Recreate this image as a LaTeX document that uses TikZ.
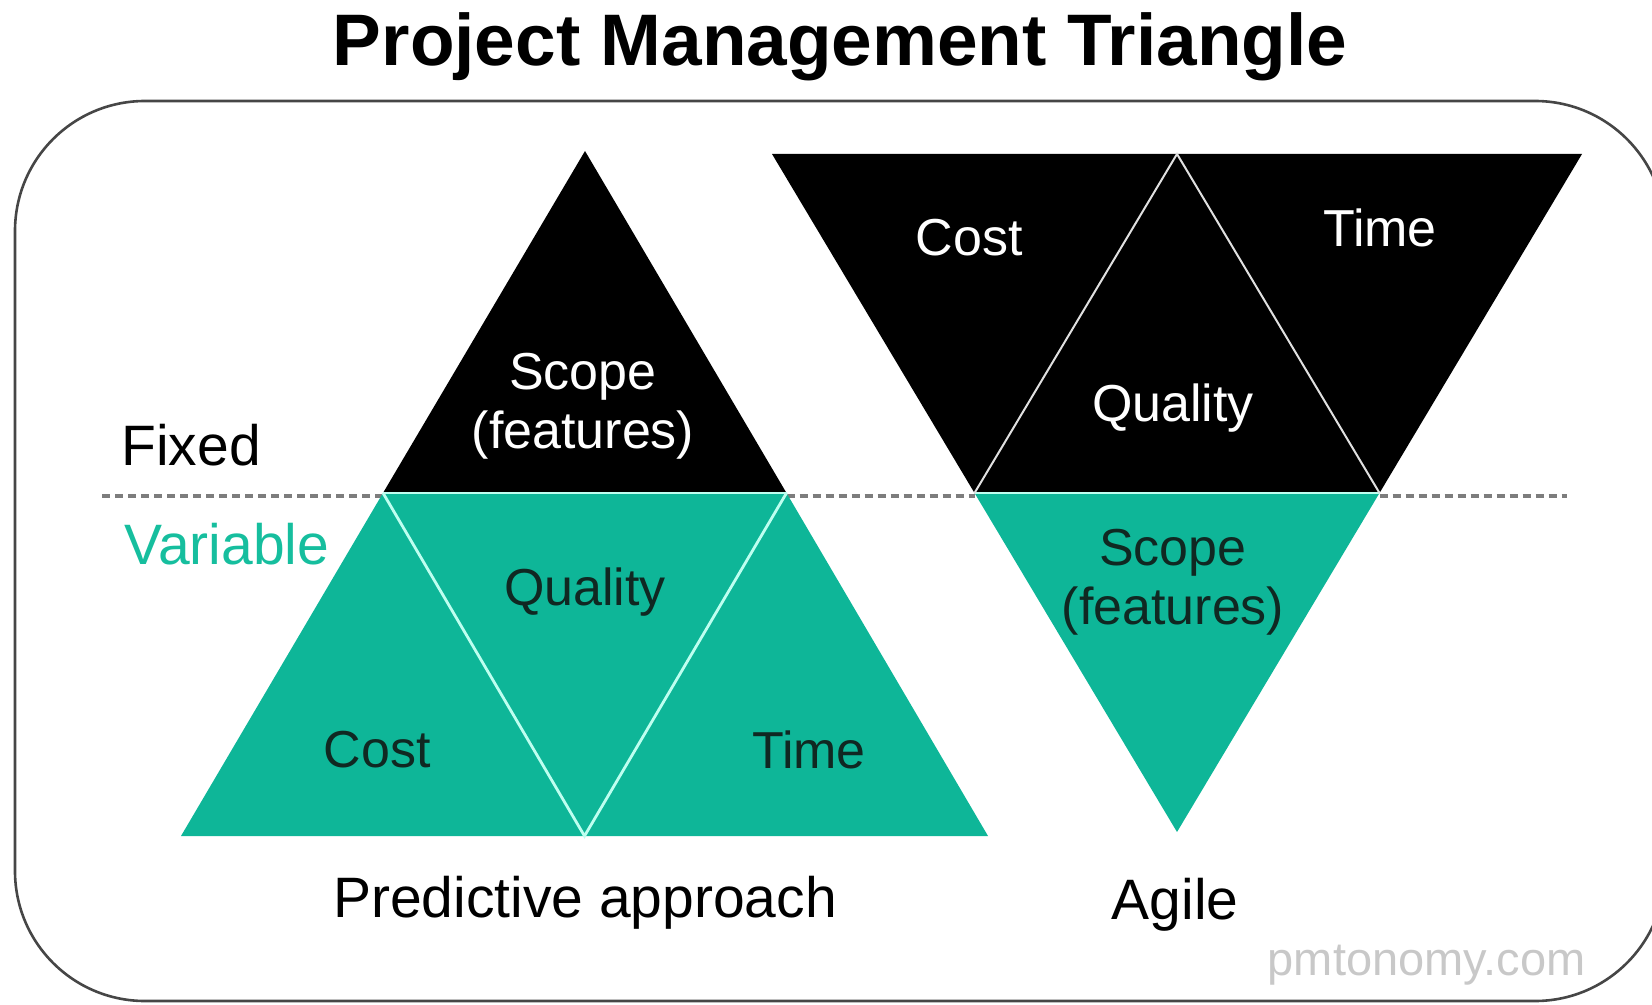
\documentclass[tikz,border=0pt]{standalone}
\usepackage{fontspec}
\setmainfont{Liberation Sans}
\definecolor{tealfill}{RGB}{14,182,152}
\definecolor{tealtxt}{RGB}{22,190,158}
\definecolor{darktxt}{RGB}{16,40,34}
\definecolor{sepcol}{RGB}{190,255,240}
\definecolor{boxcol}{RGB}{70,70,70}
\definecolor{dashcol}{RGB}{125,125,125}
\definecolor{wmcol}{RGB}{200,200,200}
\begin{document}
\begin{tikzpicture}[x=0.5pt,y=-0.5pt,
  blackpart/.style={fill=black},
  tealpart/.style={fill=tealfill},
  sepline/.style={draw=sepcol,line width=1.4pt},
  whiteline/.style={draw=white!88!black,line width=1pt},
  dashline/.style={draw=dashcol,line width=1.8pt,dash pattern=on 4pt off 2.5pt},
  framebox/.style={draw=boxcol,line width=1.3pt,rounded corners=65pt},
  trilabel/.style={font=\fontsize{26}{29.5}\selectfont,align=center,inner sep=0pt},
  outlabel/.style={font=\fontsize{28.5}{34}\selectfont,inner sep=0pt},
  titlelabel/.style={font=\fontsize{36.5}{42}\selectfont\bfseries,inner sep=0pt}
]
\useasboundingbox (0,0) rectangle (1652,1005);

% title
\node[titlelabel,anchor=base] (title) at (840,66) {Project Management Triangle};

% frame
\draw[framebox] (15,101) rectangle (1665,1001);

% predictive triangle coordinates
\coordinate (pA)  at (585,151);
\coordinate (pBL) at (181,836);
\coordinate (pBR) at (988,836);
\coordinate (pML) at (383,493);
\coordinate (pMR) at (786.5,493);
\coordinate (pMB) at (584.5,836);

% agile triangle coordinates
\coordinate (aTL) at (772,154);
\coordinate (aTR) at (1582,154);
\coordinate (aB)  at (1177,832);
\coordinate (aML) at (974.5,493);
\coordinate (aMR) at (1379.5,493);
\coordinate (aTM) at (1177,154);

% dashed separator
\coordinate (d0) at (102,496);
\coordinate (d1) at (383,496);
\coordinate (d2) at (786.5,496);
\coordinate (d3) at (974.5,496);
\coordinate (d4) at (1379.5,496);
\coordinate (d5) at (1567,496);
\draw[dashline] (d0) -- (d1);
\draw[dashline] (d2) -- (d3);
\draw[dashline] (d4) -- (d5);

% predictive shapes
\fill[blackpart] (pA) -- (pMR) -- (pML) -- cycle;
\fill[tealpart] (pML) -- (pMR) -- (pBR) -- (pBL) -- cycle;
\draw[sepline] (pML) -- (pMR);
\draw[sepline] (pML) -- (pMB) -- (pMR);

% agile shapes
\fill[blackpart] (aTL) -- (aTR) -- (aMR) -- (aML) -- cycle;
\fill[tealpart] (aML) -- (aMR) -- (aB) -- cycle;
\draw[sepline] (aML) -- (aMR);
\draw[whiteline] (aML) -- (aTM) -- (aMR);

% labels predictive
\node[trilabel,text=white] (pscope) at (583,406) {Scope\\(features)};
\node[trilabel,text=darktxt] (pquality) at (585,592) {Quality};
\node[trilabel,text=darktxt] (pcost) at (377,750) {Cost};
\node[trilabel,text=darktxt] (ptime) at (809,750) {Time};

% labels agile
\node[trilabel,text=white] (acost) at (969,238) {Cost};
\node[trilabel,text=white] (atime) at (1380,228) {Time};
\node[trilabel,text=white] (aquality) at (1173,408) {Quality};
\node[trilabel,text=darktxt] (ascope) at (1173,582) {Scope\\(features)};

% outer labels
\node[outlabel,anchor=base west] (fixed) at (121,465) {Fixed};
\node[outlabel,anchor=base west,text=tealtxt] (variable) at (124,564) {Variable};
\node[outlabel,anchor=base] (pred) at (585,917) {Predictive approach};
\node[outlabel,anchor=base] (agile) at (1175,919) {Agile};
\node[font=\fontsize{23.5}{28}\selectfont,inner sep=0pt,anchor=base east,text=wmcol] (wm) at (1586,975) {pmtonomy.com};
\end{tikzpicture}
\end{document}
